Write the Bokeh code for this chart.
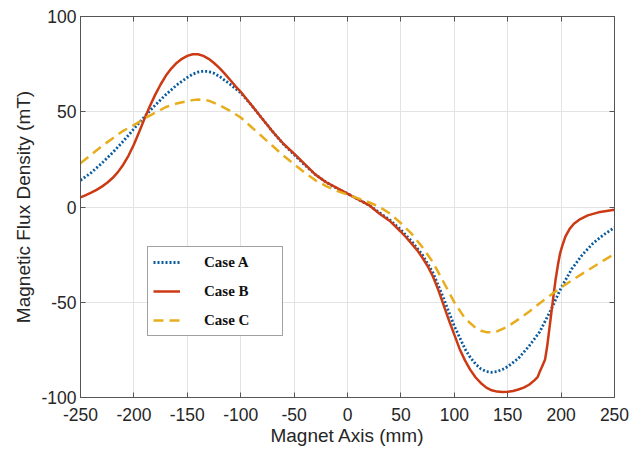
from bokeh.plotting import figure
from bokeh.models import Range1d, FixedTicker, LinearAxis, Legend, LegendItem, CustomJSTickFormatter
from bokeh.embed import file_html
from bokeh.resources import INLINE

# Magnet axis positions (mm) and flux density (mT)
x_a = [-250, -240, -230, -220, -210, -200, -190, -180, -170, -160, -150, -145, -140, -135, -130, -125, -120,
       -110, -100, -90, -80, -70, -60, -50, -40, -30, -20, -10, 0, 10, 20, 30, 40, 50, 60, 70, 80, 90,
       100, 105, 110, 115, 120, 125, 130, 135, 140, 145, 150, 160, 170, 180, 190, 200, 210, 220, 230, 240, 250]
case_a = [14, 18, 23, 28.5, 34.5, 41, 47.5, 53.5, 59, 64, 68, 69.7, 70.8, 71.3, 71.1, 70.2, 68.6,
          64.5, 60, 53.5, 46.5, 39.5, 33, 27.5, 22, 17, 13, 9.8, 7, 4, 1, -3, -7, -12, -18, -25, -34.5, -48,
          -62.5, -68.5, -74.5, -79, -82.5, -85, -86.4, -86.8, -86.4, -85.3, -83.8, -79.5, -73, -65.5, -54.5,
          -42.5, -32.5, -25, -19, -14.5, -10.8]

x_b = [-250, -245, -240, -235, -230, -225, -220, -215, -210, -205, -200, -195, -190, -185, -180, -175, -170,
       -165, -160, -155, -150, -145, -140, -135, -130, -125, -120, -115, -110, -105, -100, -90, -80, -70,
       -60, -50, -40, -30, -20, -10, 0, 10, 20, 30, 40, 50, 55, 60, 65, 70, 75, 80, 85, 90, 95, 100, 105,
       110, 115, 120, 125, 130, 135, 140, 145, 150, 155, 160, 165, 170, 175, 178, 180, 182, 185, 187, 189,
       191, 193, 195, 197, 199, 201, 204, 208, 212, 218, 225, 235, 250]
case_b = [5, 6.2, 7.5, 9, 10.7, 12.7, 15.2, 18.3, 22.2, 27, 32.8, 39.5, 46.5, 53, 59, 64.3, 69,
          72.7, 75.6, 77.8, 79.3, 80.2, 80.2, 79.3, 77.8, 75.6, 73, 70, 66.8, 63.5, 60.5, 53.5, 46.5, 39.5,
          33.2, 28, 22.5, 17, 13, 10, 7, 4, 1, -3.5, -7.5, -13, -16, -19.2, -22.5, -26.5, -31, -36.5, -43.5,
          -51.5, -59.5, -67, -74.5, -80.5, -85.5, -89.5, -92.5, -94.8, -96.2, -96.9, -97.1, -97, -96.6,
          -95.8, -94.8, -93.3, -91, -89.3, -86.5, -84, -80, -73, -64, -55, -46, -37.5, -30.5, -24.5, -20.5,
          -15.5, -11.5, -8.8, -6.3, -4.4, -2.8, -1.4]

x_c = [-250, -240, -230, -220, -210, -200, -190, -180, -170, -160, -150, -145, -140, -135, -130, -120, -110,
       -100, -90, -80, -70, -60, -50, -40, -30, -20, -10, 0, 10, 20, 30, 40, 50, 60, 70, 80, 90, 100,
       110, 120, 125, 130, 135, 140, 150, 160, 170, 180, 190, 200, 210, 220, 230, 240, 250]
case_c = [23, 27.5, 32, 36, 40, 43, 46.5, 49.5, 52.5, 54.3, 55.5, 56.1, 56.4, 56.3, 55.8, 53.5, 50.5,
          47, 42, 37, 32, 27, 22.5, 18, 14, 11, 8.5, 6.5, 4.5, 2.5, 0, -3.5, -8.5, -14, -21, -29, -39.5,
          -50, -58.5, -63.5, -65, -65.7, -65.8, -65.3, -62.8, -59, -55, -50.5, -46.3, -42.2, -38.5, -35,
          -31.5, -28, -24.6]

x_ticks = [-250, -200, -150, -100, -50, 0, 50, 100, 150, 200, 250]
y_ticks = [-100, -50, 0, 50, 100]

p = figure(frame_width=534, frame_height=381, output_backend="svg", toolbar_location=None,
           x_range=Range1d(-250, 250), y_range=Range1d(-100, 100),
           min_border_left=80, min_border_top=16, min_border_right=27, min_border_bottom=53,
           background_fill_color="white", border_fill_color="white")

FONT = "Liberation Sans"
TXT = "#262626"
AX = "#555555"
plain = CustomJSTickFormatter(code="return String(tick)")

for ax in (p.xaxis[0], p.yaxis[0]):
    ax.formatter = plain
    ax.major_tick_in = 5
    ax.major_tick_out = 0
    ax.minor_tick_line_color = None
    ax.axis_line_color = AX
    ax.major_tick_line_color = AX
    ax.major_label_text_font = FONT
    ax.major_label_text_font_size = "17.5px"
    ax.major_label_text_color = TXT
    ax.axis_label_text_font = FONT
    ax.axis_label_text_font_size = "19px"
    ax.axis_label_text_font_style = "normal"
    ax.axis_label_text_color = TXT

p.xaxis.ticker = FixedTicker(ticks=x_ticks)
p.yaxis.ticker = FixedTicker(ticks=y_ticks)
p.xaxis.axis_label = "Magnet Axis (mm)"
p.yaxis.axis_label = "Magnetic Flux Density (mT)"
p.xaxis.major_label_standoff = 10
p.xaxis.axis_label_standoff = 1
p.yaxis.major_label_standoff = 4
p.yaxis.axis_label_standoff = 4

blank = CustomJSTickFormatter(code="return ''")
top = LinearAxis(ticker=FixedTicker(ticks=x_ticks), formatter=blank, major_tick_in=5, major_tick_out=0,
                 minor_tick_line_color=None, axis_line_color=AX, major_tick_line_color=AX,
                 major_label_text_font_size="1px", major_label_standoff=0)
right = LinearAxis(ticker=FixedTicker(ticks=y_ticks), formatter=blank, major_tick_in=5, major_tick_out=0,
                   minor_tick_line_color=None, axis_line_color=AX, major_tick_line_color=AX,
                   major_label_text_font_size="1px", major_label_standoff=0)
p.add_layout(top, "above")
p.add_layout(right, "right")

p.xgrid.ticker = FixedTicker(ticks=x_ticks)
p.ygrid.ticker = FixedTicker(ticks=y_ticks)
p.grid.grid_line_color = "#e3e3e3"
p.grid.grid_line_width = 1
p.outline_line_color = AX

ra = p.line(x_a, case_a, line_color="#0a5c9e", line_width=2.8, line_dash="2 2", line_join="round")
rb = p.line(x_b, case_b, line_color="#cc3a14", line_width=2.5, line_join="round")
rc = p.line(x_c, case_c, line_color="#e8ad1c", line_width=2.5, line_dash="10 6", line_join="round")

legend = Legend(items=[LegendItem(label="Case A", renderers=[ra]),
                       LegendItem(label="Case B", renderers=[rb]),
                       LegendItem(label="Case C", renderers=[rc])],
                location=(67, 61), orientation="vertical",
                label_text_font="Liberation Serif", label_text_font_style="bold",
                label_text_font_size="15px", label_text_color="#111111",
                glyph_width=27, glyph_height=20, label_height=20, label_width=73,
                label_standoff=24, spacing=9, padding=5, margin=0,
                border_line_color="#444444", border_line_width=1,
                background_fill_color="white", background_fill_alpha=1)
p.add_layout(legend, "center")

open("out.html", "w").write(file_html(p, INLINE))
